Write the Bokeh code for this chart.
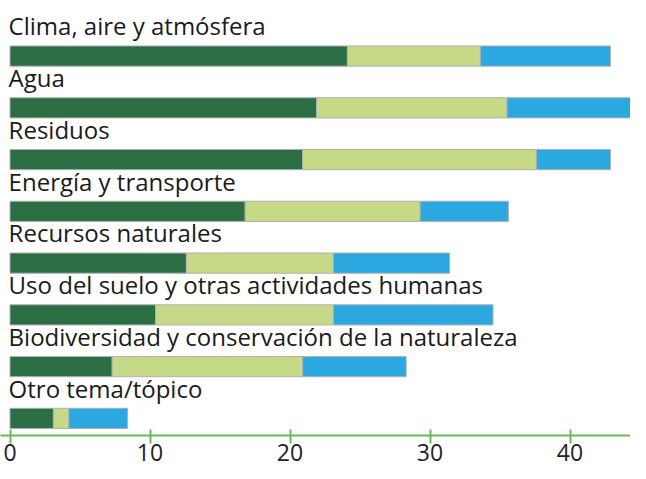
from bokeh.plotting import figure
from bokeh.models import ColumnDataSource, Range1d, FixedTicker
from bokeh.core.properties import value
from bokeh.embed import file_html
from bokeh.resources import INLINE

categories = [
    "Clima, aire y atmósfera",
    "Agua",
    "Residuos",
    "Energía y transporte",
    "Recursos naturales",
    "Uso del suelo y otras actividades humanas",
    "Biodiversidad y conservación de la naturaleza",
    "Otro tema/tópico",
]
serie_1 = [24.1, 21.9, 20.9, 16.8, 12.6, 10.4, 7.3, 3.1]
serie_2 = [9.5, 13.6, 16.7, 12.5, 10.5, 12.7, 13.6, 1.1]
serie_3 = [9.3, 9.5, 5.3, 6.3, 8.3, 11.4, 7.4, 4.2]
tick_values = [0, 10, 20, 30, 40]
colors = ["#2b6e44", "#c5d986", "#2ca8e0"]

n = len(categories)
rows = list(range(n))
src = ColumnDataSource(dict(y=rows, s1=serie_1, s2=serie_2, s3=serie_3))

W, H = 630, 463
px_per_unit = 14.0
x0 = -9.5 / px_per_unit
row_px = 51.7
first_center = 55.5
frame_h = 434.5
p = figure(width=W, height=H, output_backend="svg", toolbar_location=None,
           x_range=Range1d(x0, x0 + W / px_per_unit),
           y_range=Range1d((frame_h - first_center) / row_px, -first_center / row_px),
           min_border_left=0, min_border_right=0, min_border_top=0, min_border_bottom=0)
p.outline_line_color = None
p.xgrid.visible = False
p.ygrid.visible = False
p.yaxis.visible = False
p.background_fill_color = "white"
p.border_fill_color = "white"

p.hbar_stack(["s1", "s2", "s3"], y="y", height=0.39, color=colors,
             line_color="#b0b0b0", line_width=1, source=src)

lab_src = ColumnDataSource(dict(x=[-0.1] * n, y=[r - 0.585 for r in rows], t=categories))
p.text(x="x", y="y", text="t", source=lab_src, text_font=value("Open Sans"),
       text_font_size="24px", text_color="#1a1a1a", text_baseline="alphabetic",
       text_align="left")

ax = p.xaxis[0]
ax.ticker = FixedTicker(ticks=tick_values)
ax.axis_line_color = "#68b85a"
ax.axis_line_width = 2
ax.major_tick_line_color = "#68b85a"
ax.major_tick_line_width = 2
ax.major_tick_in = 6
ax.major_tick_out = 8
ax.minor_tick_line_color = None
ax.major_label_text_font = "Open Sans"
ax.major_label_text_font_size = "23px"
ax.major_label_text_color = "#222222"
ax.major_label_text_line_height = 0.6
ax.major_label_standoff = 0

open("out.html", "w").write(file_html(p, INLINE))
